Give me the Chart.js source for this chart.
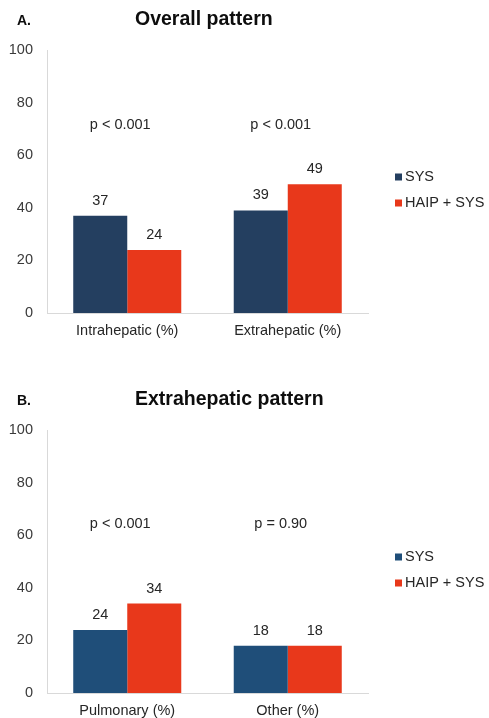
<!DOCTYPE html>
<html>
<head>
<meta charset="utf-8">
<script src="https://cdn.jsdelivr.net/npm/chart.js@4.4.1/dist/chart.umd.min.js"></script>
<style>
  html, body { margin: 0; padding: 0; background: #fff; }
  .box { position: absolute; left: 0; width: 489px; height: 338px; }
</style>
</head>
<body>
<div class="box" style="top:0"><canvas id="chartA" width="489" height="338"></canvas></div>
<div class="box" style="top:380px"><canvas id="chartB" width="489" height="338"></canvas></div>
<script>
const seriesNames = ['SYS', 'HAIP + SYS'];

const overallLabels = ['Intrahepatic (%)', 'Extrahepatic (%)'];
const overallSys = [37, 39];
const overallHaip = [24, 49];
const overallP = ['p < 0.001', 'p < 0.001'];

const extraLabels = ['Pulmonary (%)', 'Other (%)'];
const extraSys = [24, 18];
const extraHaip = [34, 18];
const extraP = ['p < 0.001', 'p = 0.90'];

const yTicks = [0, 20, 40, 60, 80, 100];

const FONT = '"Liberation Sans", Arial, sans-serif';
const TEXT = '#262626';
const TICK = '#3a3a3a';

// titles, p values, bar labels and legend drawn on the canvas
const decorPlugin = {
    id: 'decor',
    afterDatasetsDraw(chart, args, opts) {
        const ctx = chart.ctx;
        ctx.save();
        ctx.fillStyle = TEXT;
        ctx.textAlign = 'center';
        ctx.textBaseline = 'middle';
        ctx.font = '14.5px ' + FONT;
        chart.data.datasets.forEach((ds, i) => {
            chart.getDatasetMeta(i).data.forEach((bar, j) => {
                ctx.fillText(ds.data[j], bar.x, bar.y - 15);
            });
        });

        const xs = chart.scales.x;
        opts.pValues.forEach((p, j) => {
            ctx.fillText(p, xs.getPixelForValue(j) - 7, opts.pY);
        });

        ctx.textAlign = 'left';
        ctx.fillStyle = '#0d0d0d';
        ctx.font = 'bold 19.5px ' + FONT;
        ctx.fillText(opts.title, 135, 20);
        ctx.font = 'bold 14px ' + FONT;
        ctx.fillText(opts.tag, 17, 21);

        // legend
        ctx.font = '14.5px ' + FONT;
        chart.data.datasets.forEach((ds, i) => {
            const y = 177 + i * 26;
            ctx.fillStyle = ds.backgroundColor;
            ctx.fillRect(395, y - 3.5, 7, 7);
            ctx.fillStyle = TEXT;
            ctx.fillText(ds.label, 405, y);
        });
        ctx.restore();
    }
};

function buildChart(id, labels, sys, haip, pValues, pY, title, tag, sysColor) {
    const ctx = document.getElementById(id).getContext('2d');
    return new Chart(ctx, {
        type: 'bar',
        data: {
            labels: labels,
            datasets: [
                { label: seriesNames[0], data: sys, backgroundColor: sysColor, borderWidth: 0 },
                { label: seriesNames[1], data: haip, backgroundColor: '#E8381B', borderWidth: 0 }
            ]
        },
        options: {
            responsive: false,
            animation: false,
            devicePixelRatio: 1,
            categoryPercentage: 0.673,
            barPercentage: 1,
            layout: { padding: { top: 50, right: 121, left: 0, bottom: 0 } },
            plugins: {
                legend: { display: false },
                tooltip: { enabled: false },
                decor: { pValues: pValues, pY: pY, title: title, tag: tag }
            },
            scales: {
                x: {
                    grid: { display: false, drawTicks: false },
                    border: { color: '#d9d9d9', width: 1 },
                    ticks: { color: TEXT, font: { family: FONT, size: 14.5 }, padding: 9 },
                    afterFit(s) { s.height = 25; }
                },
                y: {
                    min: 0,
                    max: 100,
                    afterBuildTicks(s) { s.ticks = yTicks.map(v => ({ value: v })); },
                    grid: { display: false, drawTicks: false },
                    border: { color: '#d9d9d9', width: 1 },
                    ticks: { color: TICK, font: { family: FONT, size: 14.5 }, padding: 14 },
                    afterFit(s) { s.width = 47; }
                }
            }
        },
        plugins: [decorPlugin]
    });
}

buildChart('chartA', overallLabels, overallSys, overallHaip, overallP, 125, 'Overall pattern', 'A.', '#243F60');
buildChart('chartB', extraLabels, extraSys, extraHaip, extraP, 144, 'Extrahepatic pattern', 'B.', '#1F4E79');
</script>
</body>
</html>
